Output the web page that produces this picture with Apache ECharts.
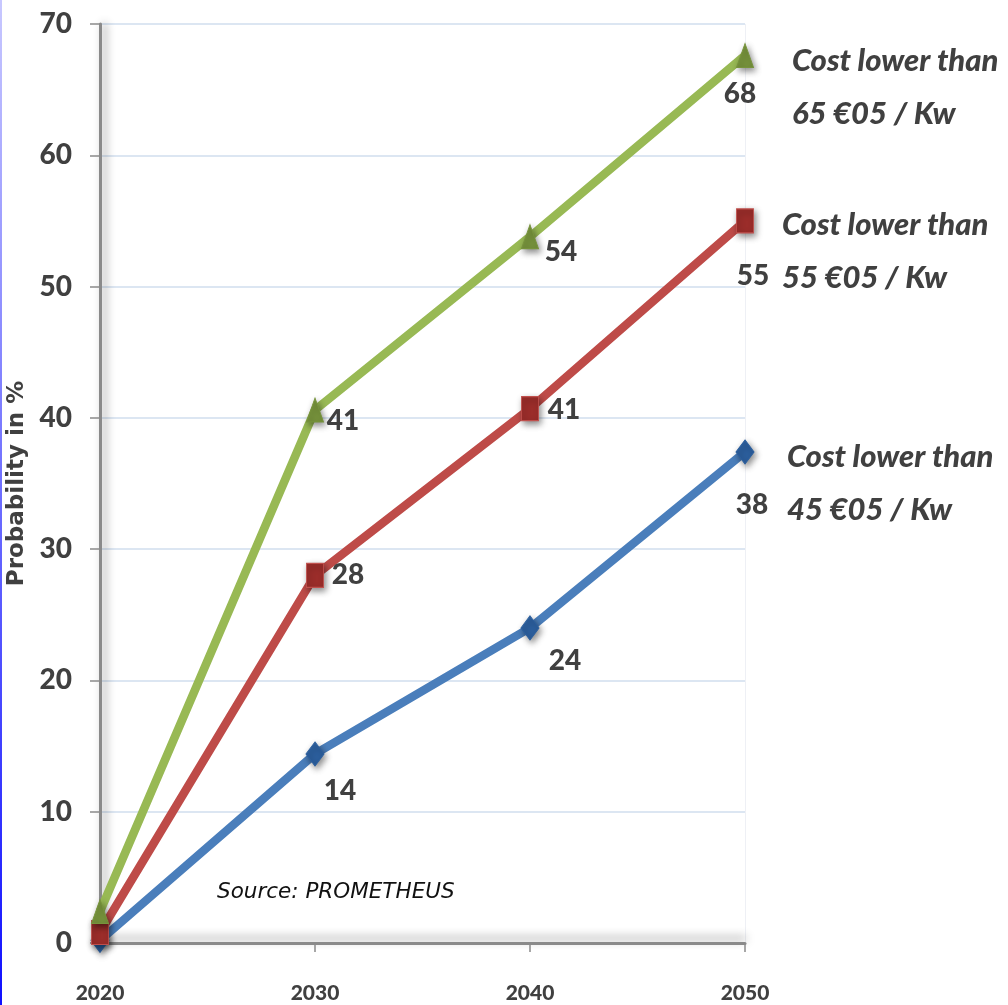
<!DOCTYPE html>
<html>
<head>
<meta charset="utf-8">
<script src="https://cdn.jsdelivr.net/npm/echarts@6/dist/echarts.min.js"></script>
<style>
  html, body { margin: 0; padding: 0; background: #fff; }
  #chart { width: 1008px; height: 1005px; }
</style>
</head>
<body>
<div id="chart"></div>
<script>
// data
const years = ['2020', '2030', '2040', '2050'];
const yTicks = [0, 10, 20, 30, 40, 50, 60, 70];

const green65 = [2.4, 40.6, 53.8, 67.6];
const red55 = [0.8, 28.0, 40.7, 55.0];
const blue45 = [0.2, 14.4, 24.0, 37.4];

// printed labels (2020 has none)
const green65Labels = ['', '41', '54', '68'];
const red55Labels = ['', '28', '41', '55'];
const blue45Labels = ['', '14', '24', '38'];

const names = [
  'Cost lower than\n65 €05 / Kw',
  'Cost lower than\n55 €05 / Kw',
  'Cost lower than\n45 €05 / Kw'
];

const FONT = 'Lato, "Open Sans", sans-serif';
const TEXT = '#404040';
const HEAVY = 900;

const chart = echarts.init(document.getElementById('chart'));

// per-point label offsets (label centre relative to the point)
const offsets = {
  green: [null, [28, 11], [31, 15], [-5, 38]],
  red: [null, [33, 0], [34, 1], [8, 55]],
  blue: [null, [25, 37], [35, 33], [7, 53]]
};

function buildSeries(name, values, labels, offs, cfg) {
  return {
    name: name,
    type: 'line',
    data: values.map((v, i) => ({
      value: v,
      label: labels[i]
        ? { show: true, position: 'inside', offset: offs[i], formatter: labels[i] }
        : { show: false }
    })),
    symbol: cfg.symbol,
    symbolSize: cfg.size,
    z: cfg.z,
    lineStyle: { color: cfg.line, width: 8.5 },
    itemStyle: {
      color: cfg.marker,
      borderColor: cfg.border,
      borderWidth: 1,
      shadowColor: 'rgba(0,0,0,0.45)',
      shadowBlur: 6,
      shadowOffsetX: 2,
      shadowOffsetY: 3
    },
    label: {
      color: TEXT,
      fontFamily: FONT,
      fontWeight: HEAVY,
      fontSize: 28,
      align: 'center',
      verticalAlign: 'middle'
    },
    endLabel: {
      show: true,
      formatter: '{a}',
      distance: 0,
      offset: cfg.endOffset,
      align: 'left',
      verticalAlign: 'middle',
      color: TEXT,
      fontFamily: FONT,
      fontWeight: HEAVY,
      fontStyle: 'italic',
      fontSize: 31,
      lineHeight: 53
    },
    emphasis: { disabled: true },
    animation: false
  };
}

const option = {
  backgroundColor: '#ffffff',
  animation: false,
  grid: { left: 100, right: 263, top: 24, bottom: 62, containLabel: false, outerBoundsMode: 'none' },
  xAxis: {
    type: 'category',
    data: years,
    boundaryGap: false,
    axisLine: {
      lineStyle: {
        color: '#8a8a8a', width: 3,
        shadowColor: 'rgba(0,0,0,0.45)', shadowBlur: 10, shadowOffsetY: -5
      }
    },
    axisTick: { show: true, length: 9, lineStyle: { color: '#8a8a8a', width: 1.5 } },
    axisLabel: {
      color: TEXT, fontFamily: FONT, fontWeight: HEAVY, fontSize: 21, margin: 40
    },
    splitLine: {
      show: true,
      interval: (i) => i === years.length - 1,
      lineStyle: { color: '#eef0f5', width: 1 }
    }
  },
  yAxis: {
    type: 'value',
    min: yTicks[0],
    max: yTicks[yTicks.length - 1],
    interval: 10,
    name: 'Probability in %',
    nameLocation: 'middle',
    nameGap: 61,
    nameRotate: 90,
    nameTextStyle: {
      color: TEXT, fontFamily: '"DejaVu Sans", sans-serif', fontWeight: 'bold', fontSize: 23
    },
    axisLine: {
      show: true,
      lineStyle: {
        color: '#8a8a8a', width: 3,
        shadowColor: 'rgba(0,0,0,0.45)', shadowBlur: 8, shadowOffsetX: 4
      }
    },
    axisTick: { show: true, length: 10, lineStyle: { color: '#8a8a8a', width: 1.5 } },
    axisLabel: {
      color: TEXT, fontFamily: FONT, fontWeight: HEAVY, fontSize: 28, margin: 28
    },
    splitLine: { lineStyle: { color: '#dce6f2', width: 2 } }
  },
  graphic: [
    {
      type: 'rect',
      left: 0, top: 0,
      shape: { width: 2, height: 1005 },
      style: {
        fill: new echarts.graphic.LinearGradient(0, 0, 0, 1, [
          { offset: 0, color: '#c8c8ff' },
          { offset: 1, color: '#1010ff' }
        ])
      },
      silent: true
    },
    {
      type: 'text',
      left: 217,
      top: 881,
      style: {
        text: 'Source: PROMETHEUS',
        fill: '#111',
        font: 'italic 21.5px "DejaVu Sans", sans-serif'
      },
      silent: true
    }
  ],
  series: [
    buildSeries(names[2], blue45, blue45Labels, offsets.blue, {
      symbol: 'diamond', size: [18, 24], z: 3,
      line: '#4a7ebb', marker: '#2c5f9e', border: '#2c5f9e', endOffset: [42, 32]
    }),
    buildSeries(names[1], red55, red55Labels, offsets.red, {
      symbol: 'rect', size: [17, 24], z: 4,
      line: '#be4b48', marker: '#9b2d2a', border: '#c0504d', endOffset: [37, 31]
    }),
    buildSeries(names[0], green65, green65Labels, offsets.green, {
      symbol: 'triangle', size: [17, 24], z: 5,
      line: '#98b954', marker: '#77933c', border: '#77933c', endOffset: [47, 32]
    })
  ]
};

chart.setOption(option);
</script>
</body>
</html>
